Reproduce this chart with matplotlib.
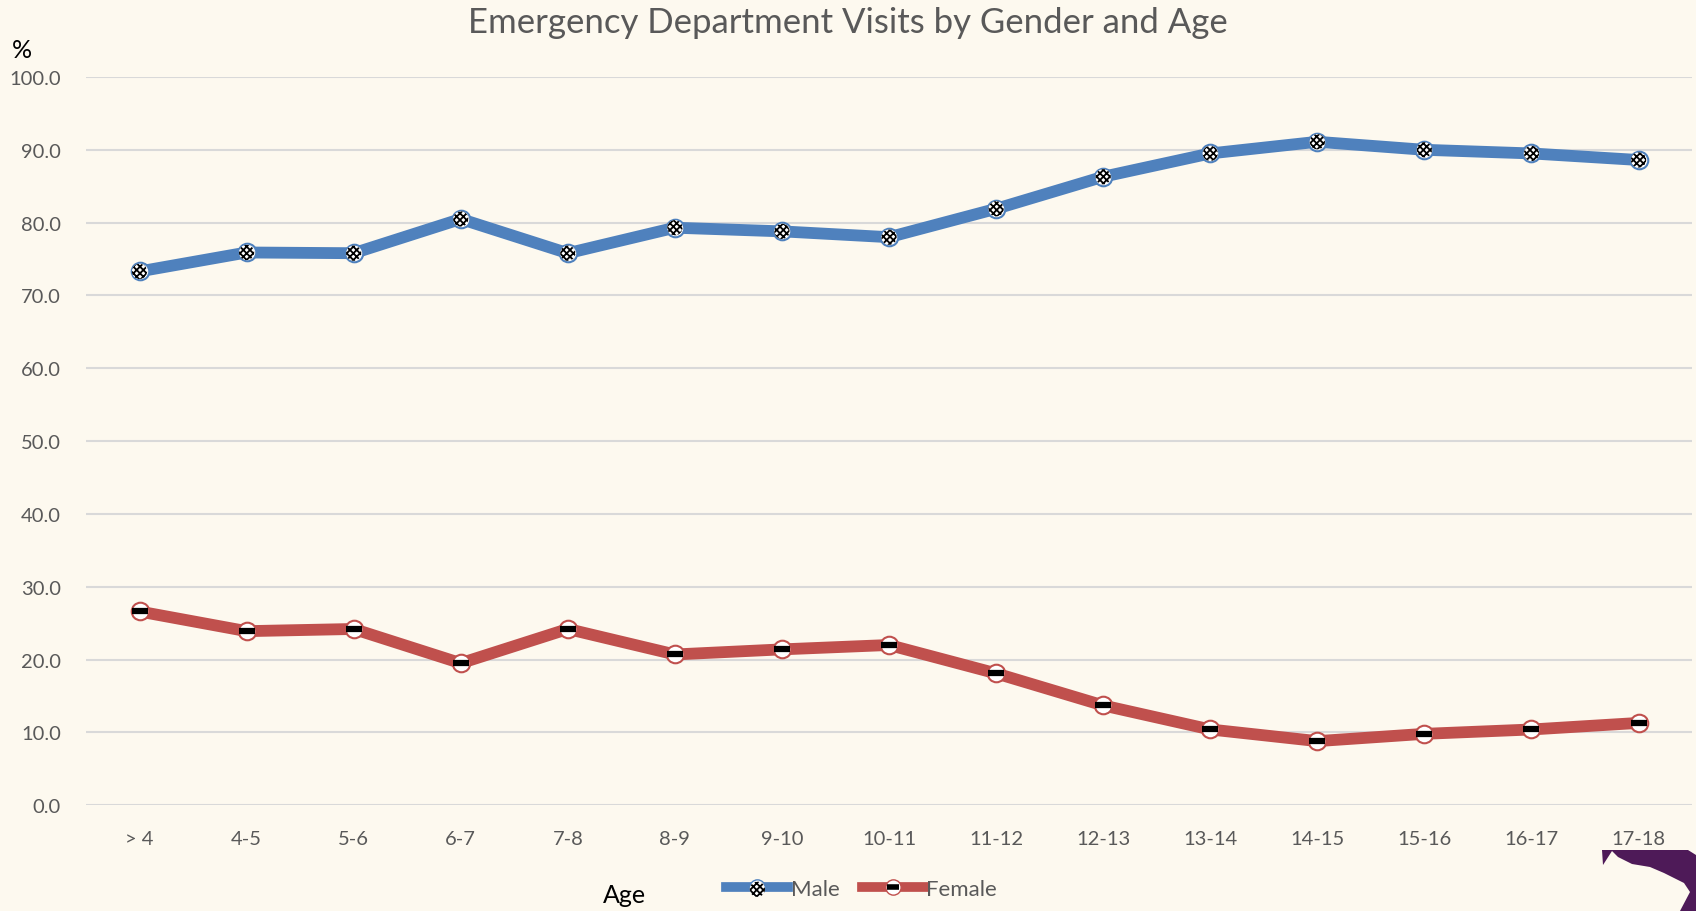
import numpy as np
import matplotlib
matplotlib.use('Agg')
import matplotlib.pyplot as plt
from matplotlib.patches import Polygon
from matplotlib.lines import Line2D
from matplotlib.legend_handler import HandlerTuple

plt.rcParams['font.family'] = ['Lato', 'DejaVu Sans']
plt.rcParams['hatch.linewidth'] = 1.3

# Datos
edades = ['> 4', '4-5', '5-6', '6-7', '7-8', '8-9', '9-10', '10-11',
          '11-12', '12-13', '13-14', '14-15', '15-16', '16-17', '17-18']
hombres = [73.3, 75.9, 75.8, 80.5, 75.8, 79.3, 78.8, 78.0,
           81.9, 86.3, 89.5, 91.1, 90.0, 89.5, 88.6]
mujeres = [26.6, 23.9, 24.2, 19.5, 24.2, 20.7, 21.4, 22.0,
           18.1, 13.7, 10.4, 8.8, 9.8, 10.4, 11.3]
y_ticks = [0, 10, 20, 30, 40, 50, 60, 70, 80, 90, 100]

fondo = '#fdf9ef'
azul = '#4f81bd'
rojo = '#c0504d'
gris = '#595959'

fig = plt.figure(figsize=(16.96, 9.12), dpi=100, facecolor=fondo)
ax = fig.add_axes([0.0507, 0.116, 0.947, 0.7985], facecolor=fondo)

x = np.arange(len(edades))

# Lineas
ax.plot(x, hombres, color=azul, lw=8.5, solid_capstyle='round', zorder=3)
ax.plot(x, mujeres, color=rojo, lw=8.5, solid_capstyle='round', zorder=3)

# Marcadores hombres (cuadriculado)
ax.scatter(x, hombres, s=160, facecolor='white', edgecolor=azul, lw=1.5, zorder=4)
m_hatch = ax.scatter(x, hombres, s=120, facecolor='white', edgecolor='black',
                     hatch='xxxxx', lw=0, zorder=5)

# Marcadores mujeres (franja)
ax.scatter(x, mujeres, s=160, facecolor='white', edgecolor=rojo, lw=1.5, zorder=4)
ax.plot(x, mujeres, ls='none', marker='_', ms=11, mew=4.5, color='black', zorder=5)

ax.set_xlim(-0.5, len(edades) - 0.5)
ax.set_ylim(0, 100)
ax.set_yticks(y_ticks)
ax.set_yticklabels(['%.1f' % v for v in y_ticks])
ax.set_xticks(x)
ax.set_xticklabels(edades)
ax.tick_params(axis='both', length=0, labelsize=14.5, colors=gris)
ax.tick_params(axis='y', pad=18)
ax.tick_params(axis='x', pad=18)
ax.grid(axis='y', color='#d9d9d9', lw=1.5, zorder=0)
ax.set_axisbelow(True)
for s in ax.spines.values():
    s.set_visible(False)

fig.text(0.5, 0.975, 'Emergency Department Visits by Gender and Age',
         ha='center', va='center', fontsize=25, color=gris)
fig.text(0.013, 0.945, '%', ha='center', va='center', fontsize=18, color='black')
fig.text(0.368, 0.018, 'Age', ha='center', va='center', fontsize=18, color='black')

# Leyenda
l_m = Line2D([], [], color=azul, lw=7, marker='o', ms=11, mfc='white', mec=azul)
l_f = Line2D([], [], color=rojo, lw=7, marker='o', ms=11, mfc='white', mec=rojo)
b_f = Line2D([], [], ls='none', marker='_', ms=9, mew=4, color='black')
leg = fig.legend([(l_m, m_hatch), (l_f, b_f)], ['Male', 'Female'], loc='center',
                 bbox_to_anchor=(0.508, 0.024), ncol=2, frameon=False, fontsize=16,
                 handlelength=2.8, columnspacing=1.0, handletextpad=0.1,
                 labelcolor=gris, scatterpoints=1,
                 handler_map={tuple: HandlerTuple(ndivide=1)})

# Logo (recortado)
pts = np.array([[1602, 851], [1688, 851], [1696, 856], [1696, 912], [1680, 912],
                [1690, 893], [1684, 884], [1664, 874], [1650, 868], [1632, 865],
                [1618, 858], [1612, 852], [1603, 866]])
pts = pts / np.array([1696, 912])
pts[:, 1] = 1 - pts[:, 1]
fig.patches.append(Polygon(pts, closed=True, transform=fig.transFigure,
                           facecolor='#4e1a58', edgecolor='none'))

plt.savefig('out.png', dpi=100, facecolor=fondo)
